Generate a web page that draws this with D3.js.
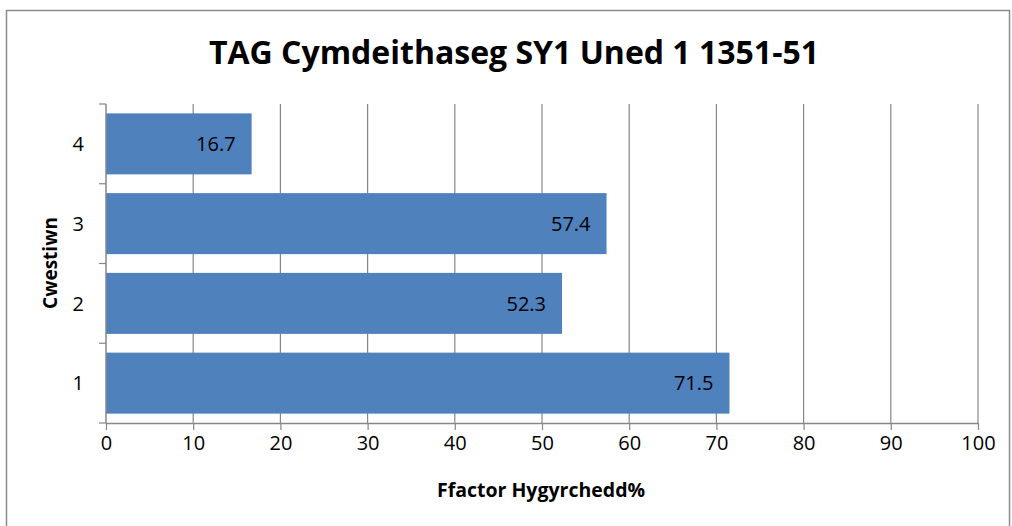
<!DOCTYPE html>
<html>
<head>
<meta charset="utf-8">
<script src="https://cdn.jsdelivr.net/npm/d3@7"></script>
<style>
  body { margin: 0; background: #fff; }
  svg text { font-family: "Open Sans", "Liberation Sans", sans-serif; fill: #000; }
</style>
</head>
<body>
<svg id="chart" width="1012" height="526"></svg>
<script>
var questions = ["1", "2", "3", "4"];
var values = [71.5, 52.3, 57.4, 16.7];
var xTicks = [0, 10, 20, 30, 40, 50, 60, 70, 80, 90, 100];
var titleText = "TAG Cymdeithaseg SY1 Uned 1 1351-51";
var xTitle = "Ffactor Hygyrchedd%";
var yTitle = "Cwestiwn";

var svg = d3.select("#chart");
var grey = "#878787";

// outer frame
svg.append("rect")
    .attr("x", 6.5).attr("y", 10.5)
    .attr("width", 1003).attr("height", 530)
    .attr("fill", "none")
    .attr("stroke", "#8c8c8c")
    .attr("stroke-width", 1.5);

// plot area edges (note: "top" is taken by window.top)
var plotLeft = 106, plotRight = 978, plotTop = 104, plotBottom = 423;

var x = d3.scaleLinear().domain([0, 100]).range([plotLeft, plotRight]);
// category 1 at the bottom
var y = d3.scaleBand().domain(questions).range([plotBottom, plotTop])
    .paddingInner(0.235).paddingOuter(0.1175);

// gridlines
svg.append("g")
    .selectAll("line")
    .data(xTicks.slice(1))
    .join("line")
        .attr("x1", d => x(d)).attr("x2", d => x(d))
        .attr("y1", plotTop).attr("y2", plotBottom)
        .attr("stroke", grey)
        .attr("stroke-width", 1.2);

// bars
svg.append("g")
    .selectAll("rect")
    .data(questions)
    .join("rect")
        .attr("x", plotLeft)
        .attr("y", d => y(d))
        .attr("width", (d, i) => x(values[i]) - plotLeft)
        .attr("height", y.bandwidth())
        .attr("fill", "#4f81bd");

// data labels
svg.append("g")
    .selectAll("text")
    .data(questions)
    .join("text")
        .attr("x", (d, i) => x(values[i]) - 16)
        .attr("y", d => y(d) + y.bandwidth() / 2)
        .attr("dy", "0.36em")
        .attr("text-anchor", "end")
        .style("font-size", "20px")
        .text((d, i) => values[i]);

// x axis
var xAxis = svg.append("g")
    .attr("transform", `translate(0,${plotBottom})`)
    .call(d3.axisBottom(x).tickValues(xTicks).tickSize(7).tickSizeOuter(0).tickPadding(6));
xAxis.select(".domain").attr("stroke", grey).attr("stroke-width", 1.5);
xAxis.selectAll(".tick line").attr("stroke", grey).attr("stroke-width", 1.2);
xAxis.selectAll(".tick text").style("font-size", "20px").attr("font-family", null);

// y axis: ticks on band boundaries
var yAxisG = svg.append("g");
yAxisG.append("line")
    .attr("x1", plotLeft).attr("x2", plotLeft)
    .attr("y1", plotTop).attr("y2", plotBottom)
    .attr("stroke", grey).attr("stroke-width", 1.5);
var step = (plotBottom - plotTop) / questions.length;
yAxisG.selectAll("line.tk")
    .data(d3.range(questions.length + 1))
    .join("line")
        .attr("class", "tk")
        .attr("x1", plotLeft - 7).attr("x2", plotLeft)
        .attr("y1", i => plotTop + i * step).attr("y2", i => plotTop + i * step)
        .attr("stroke", grey).attr("stroke-width", 1.2);
yAxisG.selectAll("text")
    .data(questions)
    .join("text")
        .attr("x", 84)
        .attr("y", d => y(d) + y.bandwidth() / 2)
        .attr("dy", "0.36em")
        .attr("text-anchor", "end")
        .style("font-size", "20px")
        .text(d => d);

// titles
svg.append("text")
    .attr("x", 514).attr("y", 64)
    .attr("text-anchor", "middle")
    .style("font-size", "32px")
    .style("font-weight", "bold")
    .text(titleText);

svg.append("text")
    .attr("x", 541).attr("y", 497)
    .attr("text-anchor", "middle")
    .style("font-size", "19.5px")
    .style("font-weight", "bold")
    .text(xTitle);

svg.append("text")
    .attr("transform", "translate(57,263) rotate(-90)")
    .attr("text-anchor", "middle")
    .style("font-size", "19px")
    .style("font-weight", "bold")
    .text(yTitle);
</script>
</body>
</html>
